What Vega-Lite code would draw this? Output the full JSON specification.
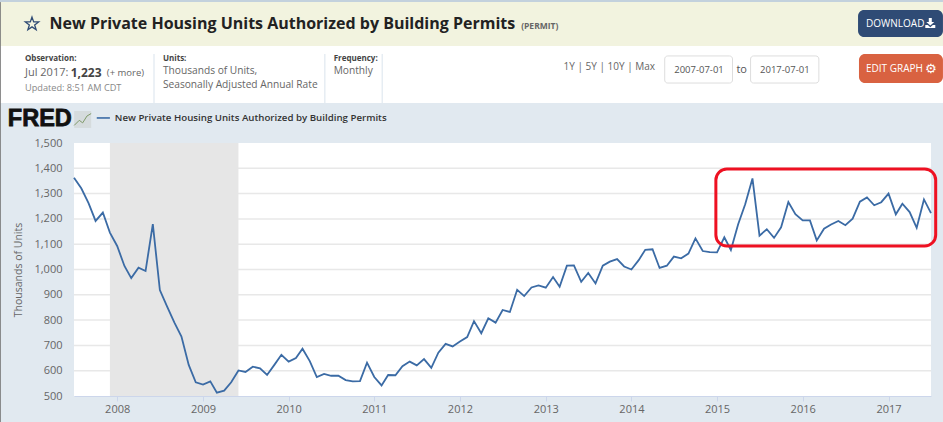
{
"$schema":"https://vega.github.io/schema/vega-lite/v6.json",
"autosize":{"type":"none"},
"width":857,"height":253,
"padding":{"left":74,"top":143,"right":12,"bottom":26},
"background":"#e1e9f0",
"view":{"fill":"#ffffff","stroke":null},
"config":{"text":{"align":"left","baseline":"middle","font":"Open Sans"}},
"resolve":{"axis":{"x":"independent","y":"independent"}},
"datasets":{
"permit":[
{"date":"2007-07-01","units":1363},{"date":"2007-08-01","units":1321},{"date":"2007-09-01","units":1262},{"date":"2007-10-01","units":1192},{"date":"2007-11-01","units":1225},{"date":"2007-12-01","units":1146},
{"date":"2008-01-01","units":1093},{"date":"2008-02-01","units":1014},{"date":"2008-03-01","units":966},{"date":"2008-04-01","units":1007},{"date":"2008-05-01","units":994},{"date":"2008-06-01","units":1179},{"date":"2008-07-01","units":919},{"date":"2008-08-01","units":853},{"date":"2008-09-01","units":790},{"date":"2008-10-01","units":735},{"date":"2008-11-01","units":623},{"date":"2008-12-01","units":554},
{"date":"2009-01-01","units":545},{"date":"2009-02-01","units":558},{"date":"2009-03-01","units":513},{"date":"2009-04-01","units":521},{"date":"2009-05-01","units":554},{"date":"2009-06-01","units":601},{"date":"2009-07-01","units":595},{"date":"2009-08-01","units":616},{"date":"2009-09-01","units":609},{"date":"2009-10-01","units":583},{"date":"2009-11-01","units":623},{"date":"2009-12-01","units":663},
{"date":"2010-01-01","units":636},{"date":"2010-02-01","units":650},{"date":"2010-03-01","units":687},{"date":"2010-04-01","units":638},{"date":"2010-05-01","units":575},{"date":"2010-06-01","units":587},{"date":"2010-07-01","units":580},{"date":"2010-08-01","units":580},{"date":"2010-09-01","units":563},{"date":"2010-10-01","units":558},{"date":"2010-11-01","units":559},{"date":"2010-12-01","units":632},
{"date":"2011-01-01","units":575},{"date":"2011-02-01","units":542},{"date":"2011-03-01","units":583},{"date":"2011-04-01","units":582},{"date":"2011-05-01","units":618},{"date":"2011-06-01","units":636},{"date":"2011-07-01","units":621},{"date":"2011-08-01","units":646},{"date":"2011-09-01","units":611},{"date":"2011-10-01","units":671},{"date":"2011-11-01","units":706},{"date":"2011-12-01","units":696},
{"date":"2012-01-01","units":715},{"date":"2012-02-01","units":733},{"date":"2012-03-01","units":796},{"date":"2012-04-01","units":748},{"date":"2012-05-01","units":807},{"date":"2012-06-01","units":790},{"date":"2012-07-01","units":840},{"date":"2012-08-01","units":832},{"date":"2012-09-01","units":920},{"date":"2012-10-01","units":895},{"date":"2012-11-01","units":929},{"date":"2012-12-01","units":937},
{"date":"2013-01-01","units":928},{"date":"2013-02-01","units":970},{"date":"2013-03-01","units":932},{"date":"2013-04-01","units":1015},{"date":"2013-05-01","units":1016},{"date":"2013-06-01","units":951},{"date":"2013-07-01","units":986},{"date":"2013-08-01","units":945},{"date":"2013-09-01","units":1015},{"date":"2013-10-01","units":1031},{"date":"2013-11-01","units":1041},{"date":"2013-12-01","units":1012},
{"date":"2014-01-01","units":1000},{"date":"2014-02-01","units":1037},{"date":"2014-03-01","units":1078},{"date":"2014-04-01","units":1080},{"date":"2014-05-01","units":1006},{"date":"2014-06-01","units":1015},{"date":"2014-07-01","units":1051},{"date":"2014-08-01","units":1044},{"date":"2014-09-01","units":1063},{"date":"2014-10-01","units":1123},{"date":"2014-11-01","units":1073},{"date":"2014-12-01","units":1069},
{"date":"2015-01-01","units":1068},{"date":"2015-02-01","units":1127},{"date":"2015-03-01","units":1077},{"date":"2015-04-01","units":1179},{"date":"2015-05-01","units":1258},{"date":"2015-06-01","units":1360},{"date":"2015-07-01","units":1134},{"date":"2015-08-01","units":1159},{"date":"2015-09-01","units":1125},{"date":"2015-10-01","units":1167},{"date":"2015-11-01","units":1267},{"date":"2015-12-01","units":1219},
{"date":"2016-01-01","units":1194},{"date":"2016-02-01","units":1194},{"date":"2016-03-01","units":1115},{"date":"2016-04-01","units":1161},{"date":"2016-05-01","units":1178},{"date":"2016-06-01","units":1192},{"date":"2016-07-01","units":1175},{"date":"2016-08-01","units":1201},{"date":"2016-09-01","units":1268},{"date":"2016-10-01","units":1285},{"date":"2016-11-01","units":1254},{"date":"2016-12-01","units":1266},
{"date":"2017-01-01","units":1300},{"date":"2017-02-01","units":1218},{"date":"2017-03-01","units":1260},{"date":"2017-04-01","units":1227},{"date":"2017-05-01","units":1165},{"date":"2017-06-01","units":1277},{"date":"2017-07-01","units":1223}
],
"recession":[{"start":"2007-12-01","end":"2009-06-01"}],
"gridlevels":[{"level":600},{"level":700},{"level":800},{"level":900},{"level":1000},{"level":1100},{"level":1200},{"level":1300},{"level":1400}]
},
"layer":[
{"data":{"name":"gridlevels"},"mark":{"type":"rule","color":"#e8e8e8","strokeWidth":1.5},
 "encoding":{
  "x":{"datum":{"year":2007,"month":7,"date":1},"type":"temporal","scale":{"domain":[{"year":2007,"month":7,"date":1},{"year":2017,"month":7,"date":1}],"nice":false},"axis":null},
  "x2":{"datum":{"year":2017,"month":7,"date":1}},
  "y":{"field":"level","type":"quantitative","scale":{"domain":[500,1500],"nice":false,"zero":false},"axis":null}}},
{"data":{"name":"recession"},"mark":{"type":"rect","fill":"#e6e6e6"},
 "encoding":{"x":{"field":"start","type":"temporal",
   "axis":{"title":null,"format":"%Y","tickCount":{"interval":"year","step":1},"grid":false,"domainColor":"#ccd6eb","tickColor":"#ccd6eb","tickSize":5,"labelColor":"#666666","labelFontSize":11,"labelFont":"Open Sans","labelPadding":2,"labelFlush":false,"labelOverlap":false}},
  "x2":{"field":"end"},
  "y":{"datum":1500,"type":"quantitative",
   "axis":{"title":"Thousands of Units","titleFont":"Open Sans","titleFontWeight":"normal","titleFontSize":10.5,"titleColor":"#666666","titlePadding":10,"values":[500,600,700,800,900,1000,1100,1200,1300,1400,1500],"format":",d","grid":false,"domain":false,"ticks":false,"labelColor":"#666666","labelFontSize":11,"labelFont":"Open Sans","labelPadding":12}},
  "y2":{"datum":500}}},
{"data":{"name":"permit"},"mark":{"type":"line","color":"#3b6ba5","strokeWidth":1.8},
 "encoding":{"x":{"field":"date","type":"temporal","axis":null},"y":{"field":"units","type":"quantitative","axis":null}}},
{"data":{"values":[{"panel":"top strip"}]},"mark":{"type":"rect","fill":"#c3d1dd"},"encoding":{"x":{"datum":{"year":2006,"month":8,"date":19},"axis":null},"x2":{"datum":{"year":2017,"month":8,"date":21}},"y":{"datum":2065,"axis":null},"y2":{"datum":2057}}},
{"data":{"values":[{"panel":"title band"}]},"mark":{"type":"rect","fill":"#f2f3df"},"encoding":{"x":{"datum":{"year":2006,"month":8,"date":19},"axis":null},"x2":{"datum":{"year":2017,"month":8,"date":21}},"y":{"datum":2057,"axis":null},"y2":{"datum":1883}}},
{"data":{"values":[{"panel":"info band"}]},"mark":{"type":"rect","fill":"#ffffff"},"encoding":{"x":{"datum":{"year":2006,"month":8,"date":19},"axis":null},"x2":{"datum":{"year":2017,"month":8,"date":21}},"y":{"datum":1883,"axis":null},"y2":{"datum":1658}}},
{"data":{"values":[{"panel":"left edge"}]},"mark":{"type":"rule","color":"#777777","strokeWidth":1},"encoding":{"x":{"datum":{"year":2006,"month":8,"date":21},"axis":null},"y":{"datum":2057,"axis":null},"y2":{"datum":397}}},
{"data":{"values":[{"panel":"divider"}]},"mark":{"type":"rule","color":"#e6edf3","strokeWidth":1.5},"encoding":{"x":{"datum":{"year":2008,"month":6,"date":6},"axis":null},"y":{"datum":1852,"axis":null},"y2":{"datum":1658}}},
{"data":{"values":[{"panel":"divider"}]},"mark":{"type":"rule","color":"#e6edf3","strokeWidth":1.5},"encoding":{"x":{"datum":{"year":2010,"month":6,"date":4},"axis":null},"y":{"datum":1852,"axis":null},"y2":{"datum":1658}}},
{"data":{"values":[{"panel":"divider"}]},"mark":{"type":"rule","color":"#e6edf3","strokeWidth":1.5},"encoding":{"x":{"datum":{"year":2011,"month":2,"date":4},"axis":null},"y":{"datum":1852,"axis":null},"y2":{"datum":1658}}},
{"data":{"values":[{"icon":"star"}]},"mark":{"type":"point","shape":"M0,-1 L0.24,-0.31 0.95,-0.31 0.38,0.12 0.59,0.81 0,0.4 -0.59,0.81 -0.38,0.12 -0.95,-0.31 -0.24,-0.31 Z","size":196,"stroke":"#2f4b75","strokeWidth":1.3,"fill":"transparent","opacity":1},"encoding":{"x":{"datum":{"year":2007,"month":1,"date":3},"axis":null},"y":{"datum":1970,"axis":null}}},
{"data":{"values":[{"t":"New Private Housing Units Authorized by Building Permits"}]},"mark":{"type":"text","fontSize":16,"fontWeight":"bold","color":"#222222"},"encoding":{"text":{"field":"t"},"x":{"datum":{"year":2007,"month":3,"date":19},"axis":null},"y":{"datum":1970,"axis":null}}},
{"data":{"values":[{"t":"(PERMIT)"}]},"mark":{"type":"text","fontSize":8.5,"fontWeight":"bold","color":"#666666"},"encoding":{"text":{"field":"t"},"x":{"datum":{"year":2012,"month":9,"date":18},"axis":null},"y":{"datum":1962,"axis":null}}},
{"data":{"values":[{"button":"download"}]},"mark":{"type":"rect","fill":"#2f4b75","cornerRadius":6},"encoding":{"x":{"datum":{"year":2016,"month":8,"date":24},"axis":null},"x2":{"datum":{"year":2017,"month":8,"date":21}},"y":{"datum":2026,"axis":null},"y2":{"datum":1919}}},
{"data":{"values":[{"t":"DOWNLOAD"}]},"mark":{"type":"text","fontSize":10,"color":"#ffffff"},"encoding":{"text":{"field":"t"},"x":{"datum":{"year":2016,"month":9,"date":27},"axis":null},"y":{"datum":1970,"axis":null}}},
{"data":{"values":[{"icon":"download"}]},"mark":{"type":"point","shape":"M-0.3,-1 H0.3 V-0.2 H0.8 L0,0.5 L-0.8,-0.2 H-0.3 Z M-1,0.4 H-0.5 L0,0.85 L0.5,0.4 H1 V1 H-1 Z","size":100,"fill":"#ffffff","stroke":null,"opacity":1},"encoding":{"x":{"datum":{"year":2017,"month":6,"date":28},"axis":null},"y":{"datum":1974,"axis":null}}},
{"data":{"values":[{"button":"edit"}]},"mark":{"type":"rect","fill":"#d96241","cornerRadius":6},"encoding":{"x":{"datum":{"year":2016,"month":8,"date":28},"axis":null},"x2":{"datum":{"year":2017,"month":8,"date":21}},"y":{"datum":1852,"axis":null},"y2":{"datum":1737}}},
{"data":{"values":[{"t":"EDIT GRAPH"}]},"mark":{"type":"text","fontSize":10,"color":"#ffffff"},"encoding":{"text":{"field":"t"},"x":{"datum":{"year":2016,"month":9,"date":27},"axis":null},"y":{"datum":1792,"axis":null}}},
{"data":{"values":[{"t":"⚙"}]},"mark":{"type":"text","fontSize":13,"font":"DejaVu Sans","color":"#ffffff","align":"center"},"encoding":{"text":{"field":"t"},"x":{"datum":{"year":2017,"month":6,"date":30},"axis":null},"y":{"datum":1792,"axis":null}}},
{"data":{"values":[{"t":"1Y | 5Y | 10Y | Max"}]},"mark":{"type":"text","fontSize":10,"color":"#666666"},"encoding":{"text":{"field":"t"},"x":{"datum":{"year":2013,"month":3,"date":18},"axis":null},"y":{"datum":1800,"axis":null}}},
{"data":{"values":[{"box":"from"}]},"mark":{"type":"rect","fill":"#ffffff","stroke":"#dddddd","cornerRadius":3},"encoding":{"x":{"datum":{"year":2014,"month":5,"date":23},"axis":null},"x2":{"datum":{"year":2015,"month":3,"date":8}},"y":{"datum":1844,"axis":null},"y2":{"datum":1737}}},
{"data":{"values":[{"box":"to"}]},"mark":{"type":"rect","fill":"#ffffff","stroke":"#dddddd","cornerRadius":3},"encoding":{"x":{"datum":{"year":2015,"month":5,"date":24},"axis":null},"x2":{"datum":{"year":2016,"month":3,"date":10}},"y":{"datum":1844,"axis":null},"y2":{"datum":1737}}},
{"data":{"values":[{"t":"2007-07-01"}]},"mark":{"type":"text","fontSize":9.5,"color":"#555555","align":"center"},"encoding":{"text":{"field":"t"},"x":{"datum":{"year":2014,"month":10,"date":16},"axis":null},"y":{"datum":1789,"axis":null}}},
{"data":{"values":[{"t":"to"}]},"mark":{"type":"text","fontSize":11,"color":"#555555","align":"center"},"encoding":{"text":{"field":"t"},"x":{"datum":{"year":2015,"month":4,"date":16},"axis":null},"y":{"datum":1789,"axis":null}}},
{"data":{"values":[{"t":"2017-07-01"}]},"mark":{"type":"text","fontSize":9.5,"color":"#555555","align":"center"},"encoding":{"text":{"field":"t"},"x":{"datum":{"year":2015,"month":10,"date":17},"axis":null},"y":{"datum":1789,"axis":null}}},
{"data":{"values":[{"t":"Observation:"}]},"mark":{"type":"text","fontSize":8,"fontWeight":"bold","color":"#444444"},"encoding":{"text":{"field":"t"},"x":{"datum":{"year":2006,"month":12,"date":4},"axis":null},"y":{"datum":1832,"axis":null}}},
{"data":{"values":[{"t":"Jul 2017:"}]},"mark":{"type":"text","fontSize":11,"color":"#666666"},"encoding":{"text":{"field":"t"},"x":{"datum":{"year":2006,"month":12,"date":4},"axis":null},"y":{"datum":1777,"axis":null}}},
{"data":{"values":[{"t":"1,223"}]},"mark":{"type":"text","fontSize":12,"fontWeight":"bold","color":"#444444"},"encoding":{"text":{"field":"t"},"x":{"datum":{"year":2007,"month":6,"date":17},"axis":null},"y":{"datum":1777,"axis":null}}},
{"data":{"values":[{"t":"(+ more)"}]},"mark":{"type":"text","fontSize":9.5,"color":"#666666"},"encoding":{"text":{"field":"t"},"x":{"datum":{"year":2007,"month":11,"date":18},"axis":null},"y":{"datum":1777,"axis":null}}},
{"data":{"values":[{"t":"Updated: 8:51 AM CDT"}]},"mark":{"type":"text","fontSize":9.2,"color":"#888888"},"encoding":{"text":{"field":"t"},"x":{"datum":{"year":2006,"month":12,"date":4},"axis":null},"y":{"datum":1717,"axis":null}}},
{"data":{"values":[{"t":"Units:"}]},"mark":{"type":"text","fontSize":8,"fontWeight":"bold","color":"#444444"},"encoding":{"text":{"field":"t"},"x":{"datum":{"year":2008,"month":7,"date":14},"axis":null},"y":{"datum":1832,"axis":null}}},
{"data":{"values":[{"t":"Thousands of Units,"}]},"mark":{"type":"text","fontSize":10.2,"color":"#666666"},"encoding":{"text":{"field":"t"},"x":{"datum":{"year":2008,"month":7,"date":14},"axis":null},"y":{"datum":1785,"axis":null}}},
{"data":{"values":[{"t":"Seasonally Adjusted Annual Rate"}]},"mark":{"type":"text","fontSize":10.2,"color":"#666666"},"encoding":{"text":{"field":"t"},"x":{"datum":{"year":2008,"month":7,"date":14},"axis":null},"y":{"datum":1729,"axis":null}}},
{"data":{"values":[{"t":"Frequency:"}]},"mark":{"type":"text","fontSize":8,"fontWeight":"bold","color":"#444444"},"encoding":{"text":{"field":"t"},"x":{"datum":{"year":2010,"month":7,"date":12},"axis":null},"y":{"datum":1832,"axis":null}}},
{"data":{"values":[{"t":"Monthly"}]},"mark":{"type":"text","fontSize":10.2,"color":"#666666"},"encoding":{"text":{"field":"t"},"x":{"datum":{"year":2010,"month":7,"date":12},"axis":null},"y":{"datum":1785,"axis":null}}},
{"data":{"values":[{"t":"FRED"}]},"mark":{"type":"text","fontSize":23.5,"fontWeight":"bold","font":"Liberation Sans","color":"#111111","stroke":"#111111","strokeWidth":0.8},"encoding":{"text":{"field":"t"},"x":{"datum":{"year":2006,"month":9,"date":22},"axis":null},"y":{"datum":1596,"axis":null}}},
{"data":{"values":[{"icon":"logo back"}]},"mark":{"type":"point","shape":"M-1,-1 H1 V1 H-1 Z","size":289,"fill":"#d5dbdd","stroke":null,"opacity":1},"encoding":{"x":{"datum":{"year":2007,"month":8,"date":7},"axis":null},"y":{"datum":1593,"axis":null}}},
{"data":{"values":[{"icon":"logo line"}]},"mark":{"type":"point","shape":"M-1,0.7 L-0.4,0.1 0,0.4 0.5,-0.4 1,-0.7","size":289,"fill":"transparent","stroke":"#7f9a6a","strokeWidth":1,"opacity":1},"encoding":{"x":{"datum":{"year":2007,"month":8,"date":7},"axis":null},"y":{"datum":1593,"axis":null}}},
{"data":{"values":[{"legend":"line"}]},"mark":{"type":"rule","color":"#3b6ba5","strokeWidth":1.6},"encoding":{"x":{"datum":{"year":2007,"month":10,"date":6},"axis":null},"x2":{"datum":{"year":2007,"month":12,"date":1}},"y":{"datum":1599,"axis":null}}},
{"data":{"values":[{"t":"New Private Housing Units Authorized by Building Permits"}]},"mark":{"type":"text","fontSize":9.7,"fontWeight":600,"color":"#333333"},"encoding":{"text":{"field":"t"},"x":{"datum":{"year":2007,"month":12,"date":22},"axis":null},"y":{"datum":1599,"axis":null}}},
{"data":{"values":[{"callout":"recent plateau"}]},"mark":{"type":"rect","fill":"transparent","stroke":"#ee1122","strokeWidth":3,"cornerRadius":11},"encoding":{"x":{"datum":{"year":2014,"month":12,"date":27},"axis":null},"x2":{"datum":{"year":2017,"month":7,"date":21}},"y":{"datum":1397,"axis":null},"y2":{"datum":1093}}}
]
}
